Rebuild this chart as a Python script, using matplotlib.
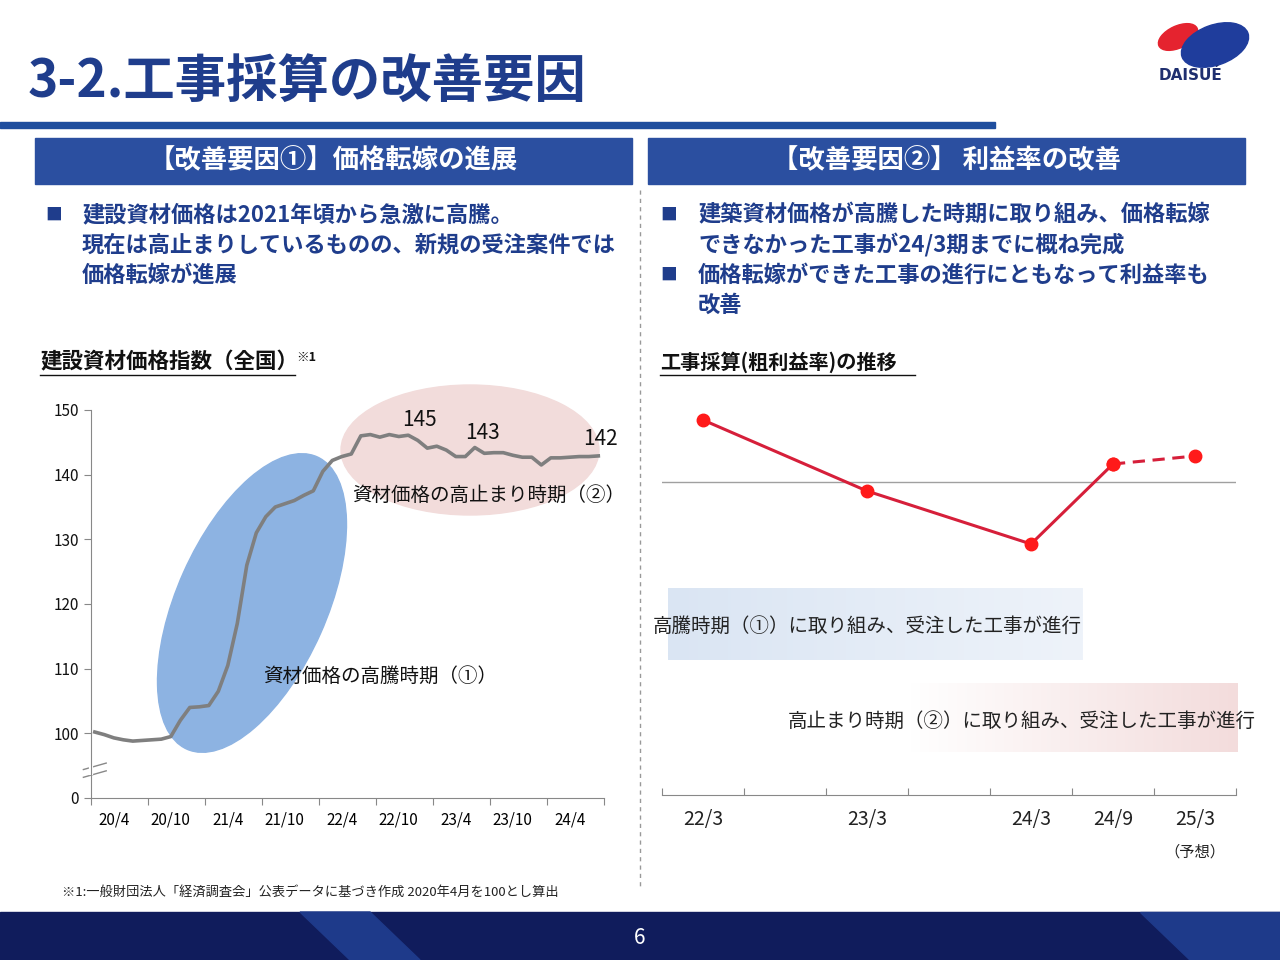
import matplotlib
matplotlib.use("Agg")
import matplotlib.pyplot as plt
import numpy as np
from matplotlib.patches import Ellipse, Rectangle, Polygon
from matplotlib.colors import LinearSegmentedColormap

plt.rcParams["font.family"] = "Noto Sans CJK JP"

# ---- data ----
index_values = [100.2, 99.8, 99.3, 99.0, 98.8, 98.9, 99.0, 99.1, 99.5, 102.0,
                104.0, 104.1, 104.3, 106.5, 110.5, 117.0, 126.0, 131.0, 133.5, 135.0,
                135.5, 136.0, 136.8, 137.5, 140.5, 142.2, 142.8, 143.2, 146.0, 146.2,
                145.8, 146.2, 145.9, 146.1, 145.3, 144.1, 144.4, 143.8, 142.8, 142.8,
                144.2, 143.3, 143.4, 143.4, 143.0, 142.7, 142.7, 141.5, 142.6, 142.6,
                142.7, 142.8, 142.8, 142.9]
left_tick_labels = ["20/4", "20/10", "21/4", "21/10", "22/4", "22/10", "23/4", "23/10", "24/4"]
left_yticks = [90, 100, 110, 120, 130, 140, 150]
left_ytick_labels = ["0", "100", "110", "120", "130", "140", "150"]
peak_labels = [(34.2, 145, "145"), (40.8, 143, "143"), (53.2, 142, "142")]

margin_periods = ["22/3", "22/9", "23/3", "23/9", "24/3", "24/9", "25/3"]
margin_labels = ["22/3", "", "23/3", "", "24/3", "24/9", "25/3\n（予想）"]
margin_actual = [375, None, 304, None, 251, 331, None]
margin_forecast = [331, 339]
margin_ref = 313

NAVY = "#1f3d8c"
BAR = "#2b4fa0"

fig = plt.figure(figsize=(12.8, 9.6), dpi=100)

bg = fig.add_axes([0, 0, 1, 1], zorder=0)
bg.set_xlim(0, 1280); bg.set_ylim(960, 0); bg.axis("off")

def T(x, y, s, **kw):
    bg.text(x, y, s, **kw)

# title
T(28, 82, "3-2.工事採算の改善要因", fontsize=37, fontweight="bold", color=NAVY, va="center")
bg.add_patch(Rectangle((0, 122), 995, 6, color="#1f4e9e"))
# logo
bg.add_patch(Ellipse((1178, 37), 42, 22, angle=-25, color="#e5232f"))
bg.add_patch(Ellipse((1215, 45), 70, 40, angle=-20, color="#1f3d9c"))
T(1190, 76, "DAISUÉ", fontsize=11, fontweight="bold", color="#1f2f6f", ha="center", va="center", family="DejaVu Sans")

# section headers
for x0, x1, s in [(35, 632, "【改善要因①】価格転嫁の進展"), (648, 1245, "【改善要因②】 利益率の改善")]:
    bg.add_patch(Rectangle((x0, 138), x1 - x0, 46, color=BAR))
    T((x0 + x1) / 2, 161, s, fontsize=19, fontweight="bold", color="white", ha="center", va="center")

# bullets
bk = dict(fontsize=16, fontweight="bold", color=NAVY, va="center")
T(45, 215, "■", fontsize=12, color=NAVY, va="center")
T(82, 215, "建設資材価格は2021年頃から急激に高騰。", **bk)
T(82, 245, "現在は高止まりしているものの、新規の受注案件では", **bk)
T(82, 275, "価格転嫁が進展", **bk)
T(660, 215, "■", fontsize=12, color=NAVY, va="center")
T(698, 215, "建築資材価格が高騰した時期に取り組み、価格転嫁", **bk)
T(698, 245, "できなかった工事が24/3期までに概ね完成", **bk)
T(660, 275, "■", fontsize=12, color=NAVY, va="center")
T(698, 275, "価格転嫁ができた工事の進行にともなって利益率も", **bk)
T(698, 305, "改善", **bk)

# sub headings
T(40, 362, "建設資材価格指数（全国）", fontsize=15.5, fontweight="bold", color="#111", va="center")
bg.plot([40, 295], [375, 375], color="#111", lw=1)
T(296, 357, "※1", fontsize=9, fontweight="bold", color="#111", va="center")
T(660, 362, "工事採算(粗利益率)の推移", fontsize=14.5, fontweight="bold", color="#111", va="center")
bg.plot([660, 915], [375, 375], color="#111", lw=1)

# divider
bg.plot([640, 640], [190, 890], color="#999", lw=1, ls=(0, (3, 3)))

# ellipses
bg.add_patch(Ellipse((252, 603), 320, 150, angle=-66, color="#8db3e2", zorder=1))
bg.add_patch(Ellipse((470, 450), 258, 130, color="#f2dcdb", zorder=1))

# gradient boxes
g1 = np.linspace(0, 1, 256).reshape(1, -1)
cm1 = LinearSegmentedColormap.from_list("b", ["#dae5f3", "#eef3fa"])
cm2 = LinearSegmentedColormap.from_list("p", ["#ffffff", "#f3dcdc"])
bg.imshow(g1, extent=(668, 1083, 660, 588), cmap=cm1, aspect="auto", zorder=1)
bg.imshow(g1, extent=(910, 1238, 752, 683), cmap=cm2, aspect="auto", zorder=1)
bg.set_xlim(0, 1280); bg.set_ylim(960, 0)
T(653, 626, "高騰時期（①）に取り組み、受注した工事が進行", fontsize=14, color="#222", va="center", zorder=3)
T(1256, 721, "高止まり時期（②）に取り組み、受注した工事が進行", fontsize=14, color="#222", va="center", ha="right", zorder=3)

# footnote
T(62, 892, "※1:一般財団法人「経済調査会」公表データに基づき作成 2020年4月を100とし算出", fontsize=9.5, color="#222", va="center")

# footer
bg.add_patch(Rectangle((0, 912), 1280, 48, color="#101c5c", zorder=1))
bg.add_patch(Polygon([(300, 912), (370, 912), (420, 960), (350, 960)], color="#1e3a8a", zorder=1))
bg.add_patch(Polygon([(1140, 912), (1280, 912), (1280, 960), (1190, 960)], color="#1e3a8a", zorder=1))
T(640, 938, "6", fontsize=15, color="white", ha="center", va="center", zorder=3)

# ---- left chart ----
axL = fig.add_axes([91/1280, 1 - 798/960, 513/1280, 388/960], zorder=2)
axL.patch.set_alpha(0)
x = np.arange(len(index_values))
axL.plot(x, index_values, color="#7f7f7f", lw=2.6)
axL.set_xlim(-0.4, 53.6)
axL.set_ylim(90, 150)
axL.set_yticks(left_yticks)
axL.set_yticklabels(left_ytick_labels, fontsize=11)
axL.set_xticks(np.arange(0, 60, 6) - 0.4)
axL.set_xticklabels([])
for i, lab in enumerate(left_tick_labels):
    axL.text(i * 6 + 2, 86.6, lab, ha="center", va="center", fontsize=11)
for s in ["top", "right"]:
    axL.spines[s].set_visible(False)
axL.spines["left"].set_color("#888"); axL.spines["bottom"].set_color("#888")
axL.tick_params(colors="#888", labelcolor="#111", length=5)
for xi, yi, s in peak_labels:
    axL.text(xi, yi + 3.5, s, ha="center", va="center", fontsize=15, color="#111")
# axis break marks
axL.plot([-1.2, 1.2], [94.4, 95.4], color="#888", lw=1, clip_on=False)
axL.plot([-1.2, 1.2], [93.2, 94.2], color="#888", lw=1, clip_on=False)
axL.plot([-0.4, -0.4], [93.9, 94.7], color="white", lw=3, clip_on=False)
axL.text(30, 108.8, "資材価格の高騰時期（①）", fontsize=14, ha="center", va="center", color="#111")
axL.text(41.5, 136.8, "資材価格の高止まり時期（②）", fontsize=14, ha="center", va="center", color="#111")

# ---- right chart ----
axR = fig.add_axes([662/1280, 1 - 795/960, 574/1280, 395/960], zorder=2)
axR.patch.set_alpha(0)
xa = [i for i, v in enumerate(margin_actual) if v is not None]
ya = [v for v in margin_actual if v is not None]
axR.plot(xa, ya, color="#d61f3a", lw=2.2, marker="o", ms=9, markerfacecolor="#ff1a1a", markeredgecolor="#ff1a1a")
axR.plot([5, 6], margin_forecast, color="#d61f3a", lw=2.2, ls=(0, (4, 2.5)), marker="o", ms=9,
         markerfacecolor="#ff1a1a", markeredgecolor="#ff1a1a")
axR.axhline(margin_ref, color="#a0a0a0", lw=1, zorder=0)
axR.set_xlim(-0.5, 6.5)
axR.set_ylim(0, 395)
axR.set_yticks([])
axR.set_xticks(np.arange(-0.5, 7, 1))
axR.set_xticklabels([])
for i, lab in enumerate(margin_labels):
    if lab:
        parts = lab.split("\n")
        axR.text(i, -24, parts[0], ha="center", va="center", fontsize=14, color="#222")
        if len(parts) > 1:
            axR.text(i, -57, parts[1], ha="center", va="center", fontsize=11, color="#222")
for s in ["top", "right", "left"]:
    axR.spines[s].set_visible(False)
axR.spines["bottom"].set_color("#888")
axR.tick_params(axis="x", colors="#888", length=5, direction="in")

fig.savefig("out.png", dpi=100)
